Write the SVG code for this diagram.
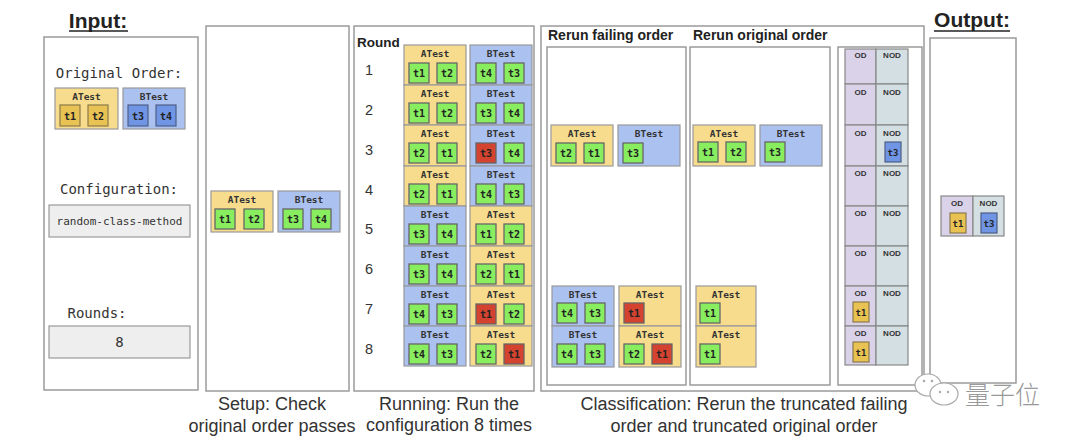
<svg xmlns="http://www.w3.org/2000/svg" width="1080" height="442" viewBox="0 0 1080 442">
<style>
.panel{fill:#fff;stroke:#9b9b9b;stroke-width:1.5}
.ga{fill:#f8dc8e;stroke:#999;stroke-width:1.2}
.gb{fill:#abc1ef;stroke:#999;stroke-width:1.2}
.tg{fill:#88ee60;stroke:#666;stroke-width:1.3}
.tr{fill:#d4432f;stroke:#666;stroke-width:1.3}
.ty{fill:#e8c253;stroke:#8a7a4a;stroke-width:1.2}
.tb{fill:#6f95e4;stroke:#4e5f86;stroke-width:1.2}
.gl{font-family:"DejaVu Sans Mono","Liberation Mono",monospace;font-weight:bold;font-size:9.5px;fill:#333;text-anchor:middle}
.tl{font-family:"DejaVu Sans Mono","Liberation Mono",monospace;font-weight:bold;font-size:10px;fill:#222;text-anchor:middle}
.mono{font-family:"DejaVu Sans Mono","Liberation Mono",monospace;font-size:14px;fill:#333;text-anchor:middle}
.title{font-family:"Liberation Sans",Arial,sans-serif;font-weight:bold;font-size:21px;fill:#222;text-anchor:middle}
.cap{font-family:"Liberation Sans",Arial,sans-serif;font-size:18px;fill:#333;text-anchor:middle}
.hd{font-family:"Liberation Sans",Arial,sans-serif;font-weight:bold;font-size:14px;fill:#222}
.num{font-family:"Liberation Sans",Arial,sans-serif;font-size:14.5px;fill:#333;text-anchor:middle}
.od{fill:#d9d2e9;stroke:#888;stroke-width:1.2}
.nod{fill:#d3dfe2;stroke:#888;stroke-width:1.2}
.odl{font-family:"Liberation Sans",Arial,sans-serif;font-weight:bold;font-size:8px;fill:#333;text-anchor:middle}
.cfg{fill:#eeeeee;stroke:#999;stroke-width:1.2}
</style>
<rect width="1080" height="442" fill="#fff"/>

<!-- Input -->
<g id="input">
<text class="title" x="98" y="28">Input:</text>
<line x1="69" y1="31" x2="128" y2="31" stroke="#222" stroke-width="1.3"/>
<rect class="panel" x="44" y="37" width="154" height="353"/>
<text class="mono" x="119" y="78">Original Order:</text>
<g id="in-a" transform="translate(55,88)"><rect class="ga" width="63" height="41"/><text class="gl" x="31.5" y="12">ATest</text><rect class="ty" x="5" y="17" width="20" height="21"/><text class="tl" x="15" y="31.5">t1</text><rect class="ty" x="33" y="17" width="20" height="21"/><text class="tl" x="43" y="31.5">t2</text></g>
<g id="in-b" transform="translate(123,88)"><rect class="gb" width="62" height="41"/><text class="gl" x="31" y="12">BTest</text><rect class="tb" x="5" y="17" width="20" height="21"/><text class="tl" x="15" y="31.5">t3</text><rect class="tb" x="33" y="17" width="20" height="21"/><text class="tl" x="43" y="31.5">t4</text></g>
<text class="mono" x="119" y="194">Configuration:</text>
<rect class="cfg" x="49" y="205" width="141" height="32"/>
<text class="mono" x="119.5" y="225" style="font-size:11px">random-class-method</text>
<text class="mono" x="97" y="318">Rounds:</text>
<rect class="cfg" x="49" y="326" width="141" height="32"/>
<text class="mono" x="119.5" y="347">8</text>
</g>

<!-- Setup -->
<g id="setup">
<rect class="panel" x="206" y="26" width="143" height="365"/>
<g transform="translate(211,191)"><rect class="ga" width="62" height="41"/><text class="gl" x="31" y="12">ATest</text><rect class="tg" x="4" y="18" width="20" height="20"/><text class="tl" x="14" y="32">t1</text><rect class="tg" x="33" y="18" width="20" height="20"/><text class="tl" x="43" y="32">t2</text></g>
<g transform="translate(278,191)"><rect class="gb" width="62" height="41"/><text class="gl" x="31" y="12">BTest</text><rect class="tg" x="5" y="18" width="20" height="20"/><text class="tl" x="15" y="32">t3</text><rect class="tg" x="33" y="18" width="20" height="20"/><text class="tl" x="43" y="32">t4</text></g>
<text class="cap" x="272" y="410">Setup: Check</text>
<text class="cap" x="272" y="432">original order passes</text>
</g>

<!-- Running -->
<g id="running">
<rect class="panel" x="354" y="26" width="180" height="365"/>
<text class="hd" x="357" y="47" style="font-size:13.5px">Round</text>
<text class="num" x="369" y="75">1</text>
<text class="num" x="369" y="115">2</text>
<text class="num" x="369" y="155">3</text>
<text class="num" x="369" y="195">4</text>
<text class="num" x="369" y="234">5</text>
<text class="num" x="369" y="274">6</text>
<text class="num" x="369" y="314">7</text>
<text class="num" x="369" y="354">8</text>
<g transform="translate(404,45)"><rect class="ga" width="62" height="40"/><text class="gl" x="31" y="12">ATest</text><rect class="tg" x="5" y="18" width="20" height="20"/><text class="tl" x="15" y="32">t1</text><rect class="tg" x="33" y="18" width="20" height="20"/><text class="tl" x="43" y="32">t2</text></g>
<g transform="translate(470,45)"><rect class="gb" width="62" height="40"/><text class="gl" x="31" y="12">BTest</text><rect class="tg" x="6" y="18" width="20" height="20"/><text class="tl" x="16" y="32">t4</text><rect class="tg" x="34" y="18" width="20" height="20"/><text class="tl" x="44" y="32">t3</text></g>
<g transform="translate(404,85)"><rect class="ga" width="62" height="40"/><text class="gl" x="31" y="12">ATest</text><rect class="tg" x="5" y="18" width="20" height="20"/><text class="tl" x="15" y="32">t1</text><rect class="tg" x="33" y="18" width="20" height="20"/><text class="tl" x="43" y="32">t2</text></g>
<g transform="translate(470,85)"><rect class="gb" width="62" height="40"/><text class="gl" x="31" y="12">BTest</text><rect class="tg" x="6" y="18" width="20" height="20"/><text class="tl" x="16" y="32">t3</text><rect class="tg" x="34" y="18" width="20" height="20"/><text class="tl" x="44" y="32">t4</text></g>
<g transform="translate(404,125)"><rect class="ga" width="62" height="41"/><text class="gl" x="31" y="12">ATest</text><rect class="tg" x="5" y="18" width="20" height="20"/><text class="tl" x="15" y="32">t2</text><rect class="tg" x="33" y="18" width="20" height="20"/><text class="tl" x="43" y="32">t1</text></g>
<g transform="translate(470,125)"><rect class="gb" width="62" height="41"/><text class="gl" x="31" y="12">BTest</text><rect class="tr" x="6" y="18" width="20" height="20"/><text class="tl" x="16" y="32">t3</text><rect class="tg" x="34" y="18" width="20" height="20"/><text class="tl" x="44" y="32">t4</text></g>
<g transform="translate(404,166)"><rect class="ga" width="62" height="40"/><text class="gl" x="31" y="12">ATest</text><rect class="tg" x="5" y="18" width="20" height="20"/><text class="tl" x="15" y="32">t2</text><rect class="tg" x="33" y="18" width="20" height="20"/><text class="tl" x="43" y="32">t1</text></g>
<g transform="translate(470,166)"><rect class="gb" width="62" height="40"/><text class="gl" x="31" y="12">BTest</text><rect class="tg" x="6" y="18" width="20" height="20"/><text class="tl" x="16" y="32">t4</text><rect class="tg" x="34" y="18" width="20" height="20"/><text class="tl" x="44" y="32">t3</text></g>
<g transform="translate(404,206)"><rect class="gb" width="62" height="40"/><text class="gl" x="31" y="12">BTest</text><rect class="tg" x="5" y="18" width="20" height="20"/><text class="tl" x="15" y="32">t3</text><rect class="tg" x="33" y="18" width="20" height="20"/><text class="tl" x="43" y="32">t4</text></g>
<g transform="translate(470,206)"><rect class="ga" width="62" height="40"/><text class="gl" x="31" y="12">ATest</text><rect class="tg" x="6" y="18" width="20" height="20"/><text class="tl" x="16" y="32">t1</text><rect class="tg" x="34" y="18" width="20" height="20"/><text class="tl" x="44" y="32">t2</text></g>
<g transform="translate(404,246)"><rect class="gb" width="62" height="40"/><text class="gl" x="31" y="12">BTest</text><rect class="tg" x="5" y="18" width="20" height="20"/><text class="tl" x="15" y="32">t3</text><rect class="tg" x="33" y="18" width="20" height="20"/><text class="tl" x="43" y="32">t4</text></g>
<g transform="translate(470,246)"><rect class="ga" width="62" height="40"/><text class="gl" x="31" y="12">ATest</text><rect class="tg" x="6" y="18" width="20" height="20"/><text class="tl" x="16" y="32">t2</text><rect class="tg" x="34" y="18" width="20" height="20"/><text class="tl" x="44" y="32">t1</text></g>
<g transform="translate(404,286)"><rect class="gb" width="62" height="40"/><text class="gl" x="31" y="12">BTest</text><rect class="tg" x="5" y="18" width="20" height="20"/><text class="tl" x="15" y="32">t4</text><rect class="tg" x="33" y="18" width="20" height="20"/><text class="tl" x="43" y="32">t3</text></g>
<g transform="translate(470,286)"><rect class="ga" width="62" height="40"/><text class="gl" x="31" y="12">ATest</text><rect class="tr" x="6" y="18" width="20" height="20"/><text class="tl" x="16" y="32">t1</text><rect class="tg" x="34" y="18" width="20" height="20"/><text class="tl" x="44" y="32">t2</text></g>
<g transform="translate(404,326)"><rect class="gb" width="62" height="40"/><text class="gl" x="31" y="12">BTest</text><rect class="tg" x="5" y="18" width="20" height="20"/><text class="tl" x="15" y="32">t4</text><rect class="tg" x="33" y="18" width="20" height="20"/><text class="tl" x="43" y="32">t3</text></g>
<g transform="translate(470,326)"><rect class="ga" width="62" height="40"/><text class="gl" x="31" y="12">ATest</text><rect class="tg" x="6" y="18" width="20" height="20"/><text class="tl" x="16" y="32">t2</text><rect class="tr" x="34" y="18" width="20" height="20"/><text class="tl" x="44" y="32">t1</text></g>
<text class="cap" x="449" y="410">Running: Run the</text>
<text class="cap" x="449" y="431">configuration 8 times</text>
</g>

<!-- Classification -->
<g id="classification">
<rect class="panel" x="541" y="26" width="383" height="365"/>
<text class="hd" x="548" y="40">Rerun failing order</text>
<text class="hd" x="693" y="40">Rerun original order</text>
<rect class="panel" x="547" y="47" width="139" height="338"/>
<rect class="panel" x="690" y="47" width="140" height="338"/>
<rect class="panel" x="838" y="47" width="84" height="338"/>
<g transform="translate(551,125)"><rect class="ga" width="62" height="41"/><text class="gl" x="31" y="12">ATest</text><rect class="tg" x="5" y="18" width="20" height="20"/><text class="tl" x="15" y="32">t2</text><rect class="tg" x="33" y="18" width="20" height="20"/><text class="tl" x="43" y="32">t1</text></g>
<g transform="translate(618,125)"><rect class="gb" width="62" height="41"/><text class="gl" x="31" y="12">BTest</text><rect class="tg" x="5" y="18" width="20" height="20"/><text class="tl" x="15" y="32">t3</text></g>
<g transform="translate(693,125)"><rect class="ga" width="62" height="41"/><text class="gl" x="31" y="12">ATest</text><rect class="tg" x="5" y="17" width="20" height="20"/><text class="tl" x="15" y="31">t1</text><rect class="tg" x="33" y="17" width="20" height="20"/><text class="tl" x="43" y="31">t2</text></g>
<g transform="translate(760,125)"><rect class="gb" width="62" height="41"/><text class="gl" x="31" y="12">BTest</text><rect class="tg" x="5" y="17" width="20" height="20"/><text class="tl" x="15" y="31">t3</text></g>
<g transform="translate(552,286)"><rect class="gb" width="62" height="40"/><text class="gl" x="31" y="12">BTest</text><rect class="tg" x="5" y="17" width="20" height="20"/><text class="tl" x="15" y="31">t4</text><rect class="tg" x="33" y="17" width="20" height="20"/><text class="tl" x="43" y="31">t3</text></g>
<g transform="translate(619,286)"><rect class="ga" width="62" height="40"/><text class="gl" x="31" y="12">ATest</text><rect class="tr" x="5" y="17" width="20" height="20"/><text class="tl" x="15" y="31">t1</text></g>
<g transform="translate(552,326)"><rect class="gb" width="62" height="41"/><text class="gl" x="31" y="12">BTest</text><rect class="tg" x="5" y="18" width="20" height="20"/><text class="tl" x="15" y="32">t4</text><rect class="tg" x="33" y="18" width="20" height="20"/><text class="tl" x="43" y="32">t3</text></g>
<g transform="translate(619,326)"><rect class="ga" width="62" height="41"/><text class="gl" x="31" y="12">ATest</text><rect class="tg" x="5" y="18" width="20" height="20"/><text class="tl" x="15" y="32">t2</text><rect class="tr" x="33" y="18" width="20" height="20"/><text class="tl" x="43" y="32">t1</text></g>
<g transform="translate(696,286)"><rect class="ga" width="60" height="40"/><text class="gl" x="30" y="12">ATest</text><rect class="tg" x="4" y="17" width="20" height="20"/><text class="tl" x="14" y="31">t1</text></g>
<g transform="translate(696,326)"><rect class="ga" width="60" height="41"/><text class="gl" x="30" y="12">ATest</text><rect class="tg" x="4" y="18" width="20" height="20"/><text class="tl" x="14" y="32">t1</text></g>
<g id="odnod">
<rect class="od" x="845" y="49" width="31" height="35"/><rect class="nod" x="876" y="49" width="32" height="35"/>
<rect class="od" x="845" y="84" width="31" height="41"/><rect class="nod" x="876" y="84" width="32" height="41"/>
<rect class="od" x="845" y="125" width="31" height="41"/><rect class="nod" x="876" y="125" width="32" height="41"/>
<rect class="od" x="845" y="166" width="31" height="40"/><rect class="nod" x="876" y="166" width="32" height="40"/>
<rect class="od" x="845" y="206" width="31" height="40"/><rect class="nod" x="876" y="206" width="32" height="40"/>
<rect class="od" x="845" y="246" width="31" height="40"/><rect class="nod" x="876" y="246" width="32" height="40"/>
<rect class="od" x="845" y="286" width="31" height="40"/><rect class="nod" x="876" y="286" width="32" height="40"/>
<rect class="od" x="845" y="326" width="31" height="39"/><rect class="nod" x="876" y="326" width="32" height="39"/>
<text class="odl" x="860.5" y="58">OD</text><text class="odl" x="892" y="58">NOD</text>
<text class="odl" x="860.5" y="95">OD</text><text class="odl" x="892" y="95">NOD</text>
<text class="odl" x="860.5" y="136">OD</text><text class="odl" x="892" y="136">NOD</text>
<text class="odl" x="860.5" y="176">OD</text><text class="odl" x="892" y="176">NOD</text>
<text class="odl" x="860.5" y="216">OD</text><text class="odl" x="892" y="216">NOD</text>
<text class="odl" x="860.5" y="256">OD</text><text class="odl" x="892" y="256">NOD</text>
<text class="odl" x="860.5" y="296">OD</text><text class="odl" x="892" y="296">NOD</text>
<text class="odl" x="860.5" y="336">OD</text><text class="odl" x="892" y="336">NOD</text>
<rect class="tb" x="885" y="142" width="16" height="20"/><text class="tl" x="893" y="156" style="font-size:9px">t3</text>
<rect class="ty" x="853" y="302" width="16" height="20"/><text class="tl" x="861" y="316" style="font-size:9px">t1</text>
<rect class="ty" x="853" y="342" width="16" height="20"/><text class="tl" x="861" y="356" style="font-size:9px">t1</text>
</g>
<text class="cap" x="744" y="410">Classification: Rerun the truncated failing</text>
<text class="cap" x="744" y="432">order and truncated original order</text>
</g>

<!-- Output -->
<g id="output">
<text class="title" x="972" y="27">Output:</text>
<line x1="934" y1="31" x2="1010" y2="31" stroke="#222" stroke-width="1.3"/>
<rect class="panel" x="930" y="38" width="86" height="345"/>
<rect class="od" x="941" y="196" width="32" height="40"/><rect class="nod" x="973" y="196" width="31" height="40"/>
<text class="odl" x="957" y="206">OD</text><text class="odl" x="988.5" y="206">NOD</text>
<rect class="ty" x="950" y="213" width="16" height="20"/><text class="tl" x="958" y="227" style="font-size:9px">t1</text>
<rect class="tb" x="981" y="213" width="16" height="20"/><text class="tl" x="989" y="227" style="font-size:9px">t3</text>
</g>

<!-- watermark -->
<g id="watermark">
<ellipse cx="928" cy="385" rx="13" ry="11" fill="#fff" stroke="#aaa" stroke-width="1.2"/>
<ellipse cx="944" cy="394" rx="14" ry="11" fill="#fff" stroke="#aaa" stroke-width="1.2"/>
<circle cx="924" cy="381" r="1.3" fill="#aaa"/><circle cx="932" cy="381" r="1.3" fill="#aaa"/>
<circle cx="940" cy="392" r="1.2" fill="#aaa"/><circle cx="948" cy="392" r="1.2" fill="#aaa"/>
<text x="965" y="404" style="font-family:'Noto Sans CJK SC',sans-serif;font-weight:300;font-size:25px;fill:#999">量子位</text>
</g>
</svg>
